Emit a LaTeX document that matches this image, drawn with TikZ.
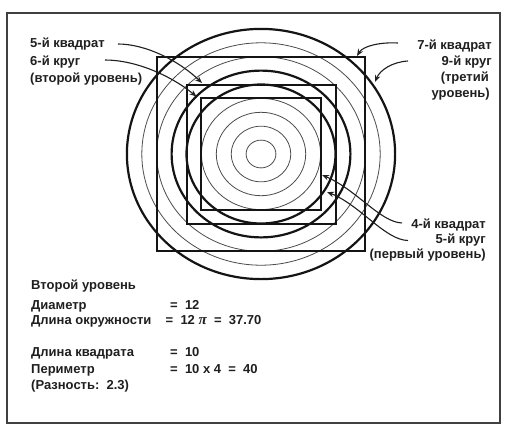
\documentclass[tikz,border=0pt]{standalone}
\usepackage{fontspec}
\setmainfont{Liberation Sans}
\newfontfamily\pifont{Liberation Serif}
\usetikzlibrary{arrows.meta}
\begin{document}
\begin{tikzpicture}[x=1pt,y=-1pt,
  lbl/.style={font=\bfseries\fontsize{13}{15}\selectfont, inner sep=0pt, text=black!88},
  thinc/.style={line width=0.8pt, black!70},
  thickc/.style={line width=2.2pt, black!92},
  sq/.style={line width=2pt, black!92},
  frame/.style={line width=1.2pt, black!75},
  arr/.style={line width=1.1pt, black!88, -{Stealth[length=7pt,width=5.5pt]}},
]
\useasboundingbox (0,0) rectangle (510,445);
\fill[white] (0,0) rectangle (510,445);
\draw[frame] (7,13) rectangle (500,423);
\coordinate (C) at (261,154);
% circles (drawn as in the reference, slightly flattened)
\foreach \n in {1,2,3,4,7,8}
  \draw[thinc] (C) ellipse [x radius={\n*14.9pt}, y radius={\n*13.9pt}];
\foreach \n in {5,6,9}
  \draw[thickc] (C) ellipse [x radius={\n*14.9pt}, y radius={\n*13.9pt}];
% squares
\draw[sq] (C) ++(-59.6,-55.6) rectangle ++(119.2,111.2);
\draw[sq] (C) ++(-74.5,-69.5) rectangle ++(149,139);
\draw[sq] (C) ++(-104.3,-97.3) rectangle ++(208.6,194.6);
% labels
\node[lbl, anchor=base west] (q5) at (30,47.3) {5-й квадрат};
\node[lbl, anchor=base west] (k6) at (30,65) {6-й круг};
\node[lbl, anchor=base west] (l2) at (30,82.3) {(второй уровень)};
\node[lbl, anchor=base east] (q7) at (492,49.5) {7-й квадрат};
\node[lbl, anchor=base east] (k9) at (492,65) {9-й круг};
\node[lbl, anchor=base east] (l3a) at (489,81.5) {(третий};
\node[lbl, anchor=base east] (l3b) at (490,97) {уровень)};
\node[lbl, anchor=base east] (q4) at (486,228.5) {4-й квадрат};
\node[lbl, anchor=base east] (k5) at (486,243.5) {5-й круг};
\node[lbl, anchor=base east] (l1) at (486,258.5) {(первый уровень)};
% arrows
\coordinate (a1s) at (118,44);  \coordinate (a1e) at (202,83);
\coordinate (a2s) at (105,60);  \coordinate (a2e) at (196.5,96.5);
\coordinate (a3s) at (398,43);  \coordinate (a3e) at (357,56);
\coordinate (a4s) at (408,61);  \coordinate (a4e) at (375,82);
\coordinate (a5s) at (402,223); \coordinate (a5e) at (322,175);
\coordinate (a6s) at (408,240.5); \coordinate (a6e) at (327,192);
\draw[arr] (a1s) .. controls (145,44) and (178,60) .. (a1e);
\draw[arr] (a2s) .. controls (135,60) and (170,75) .. (a2e);
\draw[arr] (a3s) .. controls (380,42) and (363,46) .. (a3e);
\draw[arr] (a4s) .. controls (392,62) and (380,70) .. (a4e);
\draw[arr] (a5s) .. controls (380,222) and (357,190) .. (a5e);
\draw[arr] (a6s) .. controls (385,240) and (360,205) .. (a6e);
% bottom text
\node[lbl, anchor=base west] (t0) at (31,289) {Второй уровень};
\node[lbl, anchor=base west] (t1) at (31,309) {Диаметр};
\node[lbl, anchor=base west] (v1) at (170,309) {=~~12};
\node[lbl, anchor=base west] (t2) at (31,324) {Длина окружности};
\node[lbl, anchor=base west] (v2) at (165.5,324) {=~~12 {\pifont\itshape\fontsize{15}{15}\selectfont π}~~=~~37.70};
\node[lbl, anchor=base west] (t3) at (31,356) {Длина квадрата};
\node[lbl, anchor=base west] (v3) at (170,356) {=~~10};
\node[lbl, anchor=base west] (t4) at (31,373) {Периметр};
\node[lbl, anchor=base west] (v4) at (170,373) {=~~10~x~4~~=~~40};
\node[lbl, anchor=base west] (t5) at (31,389.5) {(Разность:~~2.3)};
\end{tikzpicture}
\end{document}
